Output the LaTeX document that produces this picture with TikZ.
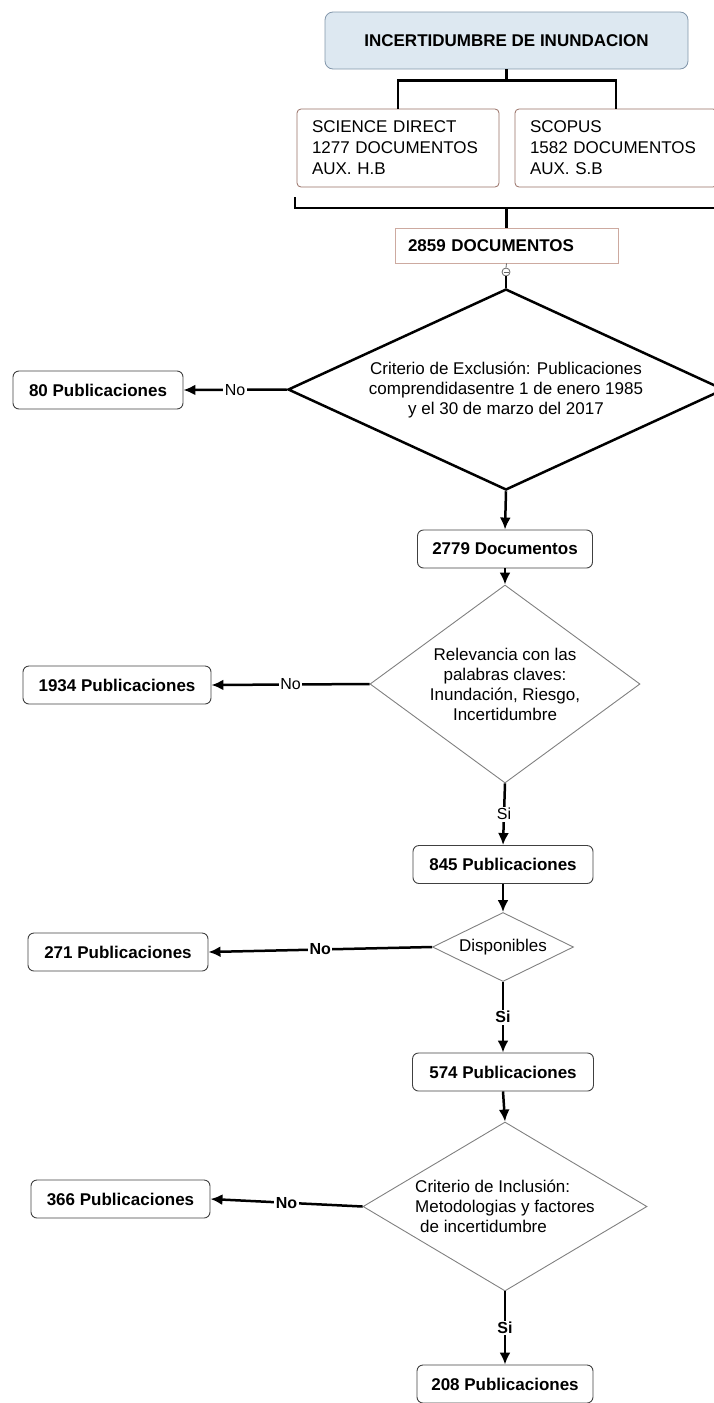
\documentclass[tikz,border=0pt]{standalone}
\usepackage{fontspec}
\setmainfont{Liberation Sans}
\usetikzlibrary{shapes.geometric,arrows.meta}
\definecolor{headfill}{RGB}{221,232,241}
\definecolor{headline}{RGB}{130,150,170}
\definecolor{srcline}{RGB}{150,110,100}
\definecolor{docline}{RGB}{205,170,160}
\begin{document}
\begin{tikzpicture}[
  x=1pt,
  y=-1pt,
  every node/.style={font=\fontsize{17}{20}\selectfont},
  headbox/.style={draw=headline, fill=headfill, rounded corners=8pt, line width=0.8pt, minimum width=363pt, minimum height=57pt, font=\fontsize{17}{20}\selectfont\bfseries},
  srcbox/.style={draw=srcline, rounded corners=4pt, line width=0.8pt, minimum height=78pt, text width=172pt, inner xsep=15pt, align=left, font=\fontsize{17}{21}\selectfont},
  docbox/.style={draw=docline, line width=0.8pt, minimum height=35pt, text width=197pt, inner xsep=13pt, align=left, font=\fontsize{17}{20}\selectfont\bfseries},
  resbox/.style={draw=black!75, rounded corners=6pt, line width=0.9pt, minimum height=38pt, inner xsep=0pt, font=\fontsize{17}{20}\selectfont\bfseries},
  filter/.style={diamond, draw=black!50, line width=0.9pt, inner sep=0pt, align=center},
  mainfilter/.style={filter, draw=black, line width=2.5pt},
  link/.style={draw=black, line width=2.5pt},
  flow/.style={link, -{Latex[length=12pt,width=11pt]}},
  lbl/.style={fill=white, inner sep=1.5pt, font=\fontsize{16}{18}\selectfont},
  lblb/.style={lbl, font=\fontsize{16}{18}\selectfont\bfseries},
  knot/.style={circle, draw=black!60, line width=0.8pt, fill=white, minimum size=8pt, inner sep=0pt}
]
  \useasboundingbox (0,0) rectangle (713,1403);

  % sources
  \node[headbox] (head) at (506.5,40.5) {INCERTIDUMBRE DE INUNDACION};
  \node[srcbox] (sd) at (398,148) {SCIENCE DIRECT\\1277 DOCUMENTOS\\AUX. H.B};
  \node[srcbox] (sc) at (616,148) {SCOPUS\\1582 DOCUMENTOS\\AUX. S.B};
  \node[docbox] (docs) at (506.5,245.5) {2859 DOCUMENTOS};
  \node[knot] (knot) at (506,272) {};

  % filters
  \node[mainfilter, aspect=2.17, minimum width=436pt, minimum height=201pt] (d1) at (506,389.5)
    {Criterio de Exclusión: Publicaciones\\comprendidasentre 1 de enero 1985\\y el 30 de marzo del 2017};
  \node[filter, aspect=1.36, minimum width=270pt, minimum height=198pt] (d2) at (505,684)
    {Relevancia con las\\palabras claves:\\Inundación, Riesgo,\\Incertidumbre};
  \node[filter, aspect=2.04, minimum width=141pt, minimum height=69pt] (d3) at (503,947) {Disponibles};
  \node[filter, aspect=1.68, minimum width=284pt, minimum height=169pt, align=left] (d4) at (505,1206.5)
    {Criterio de Inclusión:\\Metodologias y factores\\\hspace{5pt}de incertidumbre};

  % counts
  \foreach \nm/\px/\py/\bw/\txt in {
    b80/98/390/170/80 Publicaciones,
    b1934/117/685/188/1934 Publicaciones,
    b271/118/952/180/271 Publicaciones,
    b366/120.5/1199/179/366 Publicaciones,
    b2779/505/549/175/2779 Documentos,
    b845/503/864.5/180/845 Publicaciones,
    b574/503/1072/181/574 Publicaciones,
    b208/505/1384/176/208 Publicaciones}
    \node[resbox, minimum width=\bw pt] (\nm) at (\px,\py) {\txt};

  \draw[link] (head.south) -- ++(0,11) coordinate (split);
  \draw[link] (sd.north) |- (split) -| (sc.north);

  \coordinate (brl) at (295,197);
  \coordinate (brr) at (720,208);
  \coordinate (join) at (506.5,208);
  \draw[link] (brl) |- (brr);
  \draw[link] (join) -- (docs.north);

  \draw[black!60, line width=0.8pt] (docs.south) -- (knot.north);
  \draw[black!60, line width=0.8pt] ([xshift=-2.5pt]knot.center) -- ([xshift=2.5pt]knot.center);
  \draw[link] (knot.south) -- (d1.north);

  \draw[flow] (d1.south) -- (b2779.north);
  \draw[flow] (b2779.south) -- (d2.north);
  \draw[flow] (d2.south) -- node[lbl] {Si} (b845.north);
  \draw[flow] (b845.south) -- (d3.north);
  \draw[flow] (d3.south) -- node[lblb] {Si} (b574.north);
  \draw[flow] (b574.south) -- (d4.north);
  \draw[flow] (d4.south) -- node[lblb] {Si} (b208.north);

  \draw[flow] (d1.west) -- node[lbl] {No} (b80.east);
  \draw[flow] (d2.west) -- node[lbl] {No} (b1934.east);
  \draw[flow] (d3.west) -- node[lblb] {No} (b271.east);
  \draw[flow] (d4.west) -- node[lblb] {No} (b366.east);
\end{tikzpicture}
\end{document}
